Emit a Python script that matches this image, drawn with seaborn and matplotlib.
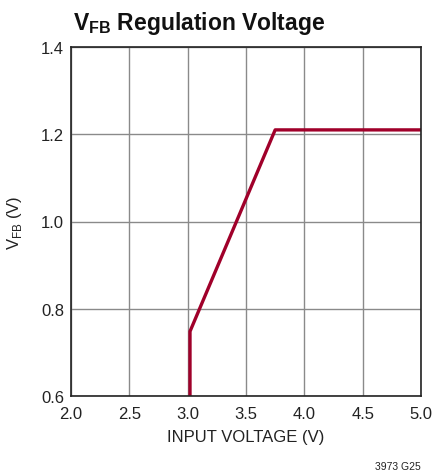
import matplotlib
matplotlib.use("Agg")
import matplotlib.pyplot as plt
import seaborn as sns
import pandas as pd
from matplotlib import font_manager

# Data
vin = [3.02, 3.02, 3.75, 5.0]
vfb = [0.60, 0.748, 1.21, 1.21]
x_ticks = [2.0, 2.5, 3.0, 3.5, 4.0, 4.5, 5.0]
y_ticks = [0.6, 0.8, 1.0, 1.2, 1.4]

sns.set_style("white")
names = {f.name for f in font_manager.fontManager.ttflist}
fam = "Liberation Sans Narrow" if "Liberation Sans Narrow" in names else "Liberation Sans"
plt.rcParams['font.family'] = [fam, 'DejaVu Sans']
plt.rcParams['mathtext.fontset'] = 'custom'
plt.rcParams['mathtext.rm'] = fam
plt.rcParams['mathtext.bf'] = fam + ":bold"

df = pd.DataFrame({"vin": vin, "vfb": vfb})

fig = plt.figure(figsize=(4.34, 4.77), dpi=100)
ax = fig.add_axes([71/434, 1-397/477, 350/434, 349/477])
sns.lineplot(data=df, x="vin", y="vfb", sort=False, estimator=None, ax=ax,
             color="#A0002A", linewidth=2.4, solid_joinstyle="round")
ax.set_xlim(2.0, 5.0)
ax.set_ylim(0.6, 1.4)
ax.set_xticks(x_ticks)
ax.set_yticks(y_ticks)
ax.set_xticklabels([f"{v:.1f}" for v in x_ticks], fontsize=12, color="#222222")
ax.set_yticklabels([f"{v:.1f}" for v in y_ticks], fontsize=12, color="#222222")
ax.tick_params(axis="x", length=0, pad=7)
ax.tick_params(axis="y", length=0, pad=5)
ax.grid(True, color="#8a8a8a", linewidth=1.0)
ax.set_axisbelow(True)
for s in ax.spines.values():
    s.set_color("#222222")
    s.set_linewidth(1.2)
ax.set_xlabel("INPUT VOLTAGE (V)", fontsize=12, color="#222222", labelpad=6)
ax.set_ylabel(r"V$_{\mathrm{FB}}$ (V)", fontsize=12, color="#222222", labelpad=12)

fig.text(73/434, 1-30/477, r"V$_{\mathbf{FB}}$ Regulation Voltage", fontsize=16.5,
         fontweight="bold", color="#111111", ha="left", va="baseline")
fig.text(421/434, 1-470/477, "3973 G25", fontsize=7.5, color="#222222", ha="right", va="baseline")

fig.savefig("out.png", dpi=100)
